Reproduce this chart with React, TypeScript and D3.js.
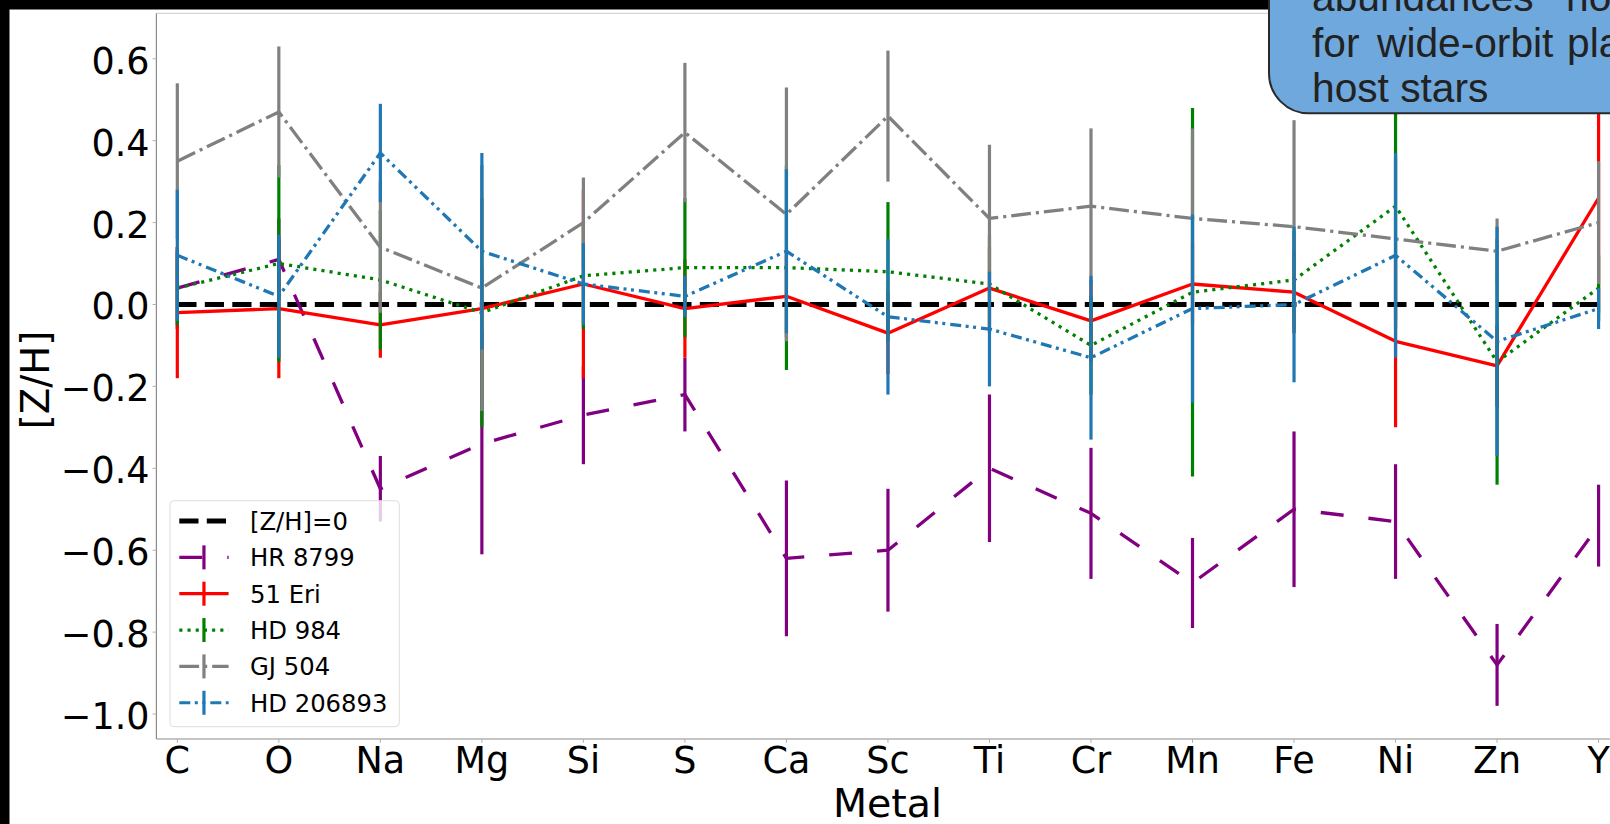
import React from 'react';
import * as d3 from 'd3';

const metals = ['C', 'O', 'Na', 'Mg', 'Si', 'S', 'Ca', 'Sc', 'Ti', 'Cr', 'Mn', 'Fe', 'Ni', 'Zn', 'Y'];

const hr8799 = [0.04, 0.11, -0.45, -0.34, -0.27, -0.22, -0.62, -0.60, -0.40, -0.51, -0.68, -0.50, -0.53, -0.88, -0.54];
const hr8799Err = [0.10, 0.10, 0.08, 0.27, 0.12, 0.09, 0.19, 0.15, 0.18, 0.16, 0.11, 0.19, 0.14, 0.10, 0.10];
const eri51 = [-0.02, -0.01, -0.05, -0.01, 0.05, -0.01, 0.02, -0.07, 0.04, -0.04, 0.05, 0.03, -0.09, -0.15, 0.26];
const eri51Err = [0.16, 0.17, 0.08, 0.10, 0.23, 0.12, 0.10, 0.10, 0.10, 0.10, 0.10, 0.10, 0.21, 0.10, 0.28];
const hd984 = [0.04, 0.10, 0.06, -0.02, 0.07, 0.09, 0.09, 0.08, 0.05, -0.10, 0.03, 0.06, 0.24, -0.14, 0.04];
const hd984Err = [0.09, 0.24, 0.17, 0.28, 0.13, 0.17, 0.25, 0.17, 0.12, 0.12, 0.45, 0.12, 0.30, 0.30, 0.08];
const gj504 = [0.35, 0.47, 0.14, 0.04, 0.20, 0.42, 0.22, 0.46, 0.21, 0.24, 0.21, 0.19, 0.16, 0.13, 0.20];
const gj504Err = [0.19, 0.16, 0.16, 0.30, 0.11, 0.17, 0.31, 0.16, 0.18, 0.19, 0.22, 0.26, 0.20, 0.08, 0.15];
const hd206893 = [0.12, 0.02, 0.37, 0.13, 0.05, 0.02, 0.13, -0.03, -0.06, -0.13, -0.01, 0.00, 0.12, -0.09, -0.01];
const hd206893Err = [0.16, 0.15, 0.12, 0.24, 0.10, 0.05, 0.20, 0.19, 0.14, 0.20, 0.23, 0.19, 0.25, 0.28, 0.05];

const yTickValues = [0.6, 0.4, 0.2, 0.0, -0.2, -0.4, -0.6, -0.8, -1.0];
const zeroLabel = '[Z/H]=0';
const boxLines = [
  { words: ['abundances', 'not'], xs: [1312, 1566], dy: 0 },
  { words: ['for', 'wide-orbit', 'planet'], xs: [1312, 1377, 1567], dy: 1 },
  { words: ['host stars'], xs: [1312], dy: 2 },
];

const series = [
  { name: 'HR 8799', color: '#800080', values: hr8799, errors: hr8799Err, dash: '23 25' },
  { name: '51 Eri', color: '#ff0000', values: eri51, errors: eri51Err, dash: '' },
  { name: 'HD 984', color: '#008000', values: hd984, errors: hd984Err, dash: '3.1 5.1' },
  { name: 'GJ 504', color: '#808080', values: gj504, errors: gj504Err, dash: '19.8 5 3.1 5' },
  { name: 'HD 206893', color: '#1f77b4', values: hd206893, errors: hd206893Err, dash: '11 4.5 3 4.5 3 5' },
];

const W = 1610;
const H = 824;
const FONT = 'DejaVu Sans, sans-serif';

export default function App() {
  const x = d3.scaleLinear().domain([-0.206, metals.length - 1 + 0.206]).range([156.4, 1619.5]);
  const y = d3.scaleLinear().domain([-1.06, 0.711]).range([738.6, 13.3]);
  const fmt = d3.format('.1f');
  const line = d3
    .line<number>()
    .x((_, i) => x(i))
    .y((d) => y(d));

  const legendX0 = 179.3;
  const legendX1 = 228.6;
  const legendTextX = 250;
  const legendBase = 530;
  const legendStep = 36.35;

  return (
    <svg
      width={W}
      height={H}
      style={{ position: 'absolute', left: 0, top: 0, background: '#fff' }}
      fontFamily={FONT}
    >
      <rect x={0} y={0} width={W} height={H} fill="#fff" />
      <rect x={0} y={0} width={W} height={9.5} fill="#000" />
      <rect x={0} y={0} width={9.5} height={H} fill="#000" />

      {/* spines */}
      <line x1={156.4} x2={W} y1={13.3} y2={13.3} stroke="#d6d6d6" strokeWidth={1.2} />
      <line x1={156.4} x2={156.4} y1={13.3} y2={739} stroke="#8c8c8c" strokeWidth={1.2} />
      <line x1={156.4} x2={W} y1={739} y2={739} stroke="#8c8c8c" strokeWidth={1.2} />

      {/* y ticks */}
      {yTickValues.map((v) => (
        <g key={'yt' + v}>
          <line x1={152.6} x2={156.4} y1={y(v)} y2={y(v)} stroke="#b0b0b0" strokeWidth={1} />
          <text x={149.5} y={y(v) + 15} textAnchor="end" fontSize={36.5} fill="#000">
            {fmt(v)}
          </text>
        </g>
      ))}

      {/* x ticks */}
      {metals.map((m, i) => (
        <g key={'xt' + m}>
          <line x1={x(i)} x2={x(i)} y1={739} y2={742.8} stroke="#b0b0b0" strokeWidth={1} />
          <text x={x(i)} y={773.3} textAnchor="middle" fontSize={36.5} fill="#000">
            {m}
          </text>
        </g>
      ))}

      <text x={887.5} y={816.7} textAnchor="middle" fontSize={39.5} fill="#000">
        Metal
      </text>
      <text
        transform={`translate(48.6, 380) rotate(-90)`}
        textAnchor="middle"
        fontSize={38.5}
        fill="#000"
      >
        [Z/H]
      </text>

      {/* zero line */}
      <line
        x1={x(0)}
        x2={x(metals.length - 1)}
        y1={y(0)}
        y2={y(0)}
        stroke="#000"
        strokeWidth={5}
        strokeDasharray="19.2 8.3"
      />

      {/* series */}
      {series.map((s) => (
        <g key={s.name}>
          <path
            d={line(s.values) || ''}
            fill="none"
            stroke={s.color}
            strokeWidth={3.3}
            strokeDasharray={s.dash || undefined}
            strokeLinejoin="round"
          />
          {s.values.map((v, i) => (
            <line
              key={i}
              x1={x(i)}
              x2={x(i)}
              y1={y(v + s.errors[i])}
              y2={y(v - s.errors[i])}
              stroke={s.color}
              strokeWidth={3.2}
            />
          ))}
        </g>
      ))}

      {/* legend */}
      <rect
        x={170}
        y={500.7}
        width={229.3}
        height={226}
        rx={4}
        fill="#fff"
        fillOpacity={0.8}
        stroke="#dddddd"
        strokeWidth={1}
      />
      <g>
        <line
          x1={legendX0}
          x2={legendX1}
          y1={legendBase - 9}
          y2={legendBase - 9}
          stroke="#000"
          strokeWidth={5}
          strokeDasharray="19.2 8.3"
        />
        <text x={legendTextX} y={legendBase} fontSize={24.3} fill="#000">
          {zeroLabel}
        </text>
      </g>
      {series.map((s, k) => {
        const base = legendBase + legendStep * (k + 1);
        const ly = base - 9;
        const cx = (legendX0 + legendX1) / 2;
        return (
          <g key={'lg' + s.name}>
            <line
              x1={legendX0}
              x2={legendX1}
              y1={ly}
              y2={ly}
              stroke={s.color}
              strokeWidth={3.2}
              strokeDasharray={s.dash || undefined}
            />
            <line x1={cx} x2={cx} y1={ly - 12} y2={ly + 12} stroke={s.color} strokeWidth={3.2} />
            <text x={legendTextX} y={base} fontSize={24.3} fill="#000">
              {s.name}
            </text>
          </g>
        );
      })}

      {/* annotation box */}
      <rect
        x={1269}
        y={-80}
        width={420}
        height={193.3}
        rx={40}
        fill="#6fa8dc"
        stroke="#2a2a2a"
        strokeWidth={2}
      />
      {boxLines.map((ln, li) =>
        ln.words.map((w, wi) => (
          <text
            key={'bx' + li + '-' + wi}
            x={ln.xs[wi]}
            y={11 + ln.dy * 45.5}
            fontSize={40.7}
            fontFamily="Liberation Sans, Arial, sans-serif"
            fill="#222"
          >
            {w}
          </text>
        ))
      )}
    </svg>
  );
}
